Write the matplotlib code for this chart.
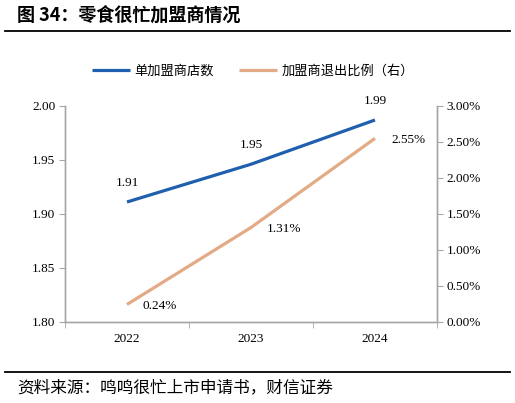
import matplotlib
matplotlib.use('Agg')
import matplotlib.pyplot as plt
from matplotlib.lines import Line2D
from matplotlib.ticker import FuncFormatter, MultipleLocator

plt.rcParams['font.family'] = ['Liberation Serif', 'Noto Sans CJK SC', 'DejaVu Sans']
CJK = ['Noto Sans CJK SC', 'DejaVu Sans']

# 数据
years = ['2022', '2023', '2024']
stores_per_franchisee = [1.911, 1.946, 1.987]   # 单加盟商店数
exit_ratio = [0.24, 1.31, 2.55]                 # 加盟商退出比例（%）

blue = '#1f5fae'
orange = '#e3ab85'
grey = '#a6a6a6'

fig = plt.figure(figsize=(5.15, 4.03), dpi=100)
ax = fig.add_axes([0.1262, 0.2017, 0.7223, 0.5353])
ax2 = ax.twinx()

x = range(len(years))
l1, = ax.plot(x, stores_per_franchisee, color=blue, lw=2.3, solid_capstyle='butt')
l2, = ax2.plot(x, exit_ratio, color=orange, lw=2.3, solid_capstyle='butt')

ax.set_xlim(-0.5, 2.5)
ax.set_ylim(1.80, 2.00)
ax.yaxis.set_major_locator(MultipleLocator(0.05))
ax.yaxis.set_major_formatter(FuncFormatter(lambda v, p: f'{v:.2f}'))
ax2.set_ylim(0, 3)
ax2.yaxis.set_major_locator(MultipleLocator(0.5))
ax2.yaxis.set_major_formatter(FuncFormatter(lambda v, p: f'{v:.2f}%'))

ax.set_xticks(list(x))
ax.set_xticklabels(years)
ax.set_xticks([-0.5, 0.5, 1.5, 2.5], minor=True)
ax.tick_params(axis='x', which='major', length=0, labelsize=9.5, pad=8)
ax.tick_params(axis='x', which='minor', length=4, color=grey, direction='out')
ax.tick_params(axis='y', length=4, color=grey, labelsize=9.5, pad=3)
ax2.tick_params(axis='y', length=4, color=grey, labelsize=9.5, pad=3)

for a in (ax, ax2):
    a.spines['top'].set_visible(False)
    for s in ('left', 'right', 'bottom'):
        a.spines[s].set_color(grey)
        a.spines[s].set_linewidth(1.0)

# 数据标签
for i, v in enumerate(stores_per_franchisee):
    ax.annotate(f'{v:.2f}', (i, v), xytext=(0, 14), textcoords='offset points',
                ha='center', va='center', fontsize=9.5)
for i, v in enumerate(exit_ratio):
    ax2.annotate(f'{v:.2f}%', (i, v), xytext=(11.5, -1), textcoords='offset points',
                 ha='left', va='center', fontsize=9.5)

fig.legend([l1, l2], ['单加盟商店数', '加盟商退出比例（右）'], loc='center',
           bbox_to_anchor=(0.491, 0.824), ncol=2, frameon=False,
           prop={'family': CJK, 'size': 9.5}, handlelength=2.9,
           handletextpad=0.3, columnspacing=1.9)

# 标题与来源
fig.text(0.033, 0.963, '图 34：零食很忙加盟商情况', fontsize=13, fontweight='bold',
         family=CJK, ha='left', va='center')
fig.add_artist(Line2D([0.01, 0.99], [0.923, 0.923], color='black', lw=1.3))
fig.add_artist(Line2D([0.01, 0.99], [0.077, 0.077], color='black', lw=1.3))
fig.text(0.033, 0.037, '资料来源：鸣鸣很忙上市申请书，财信证券', fontsize=12,
         family=CJK, style='italic', ha='left', va='center')

fig.savefig('out.png', dpi=100)
